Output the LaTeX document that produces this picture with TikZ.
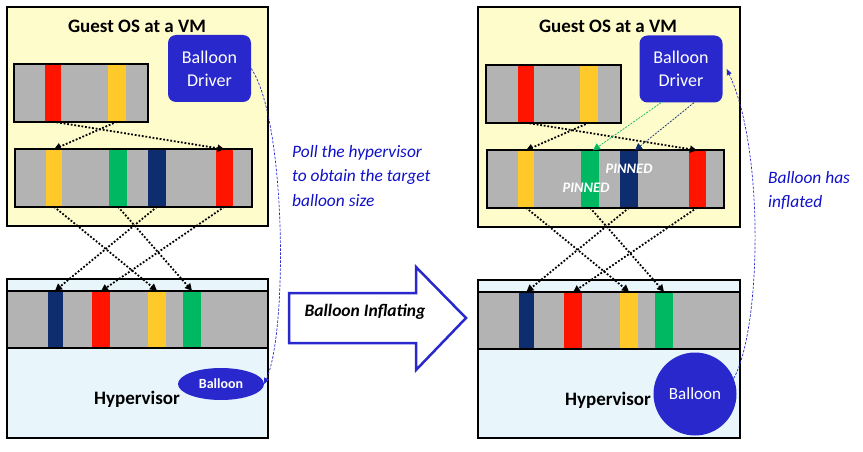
\documentclass[tikz,border=0pt]{standalone}
\usepackage{fontspec}
\setmainfont{Carlito}
\usetikzlibrary{arrows.meta,shapes.geometric}
\definecolor{gyellow}{HTML}{FFFCCB}
\definecolor{hblue}{HTML}{E8F6FC}
\definecolor{gbar}{HTML}{B3B3B3}
\definecolor{bred}{HTML}{FF1400}
\definecolor{byel}{HTML}{FFC929}
\definecolor{bgrn}{HTML}{00B862}
\definecolor{bnavy}{HTML}{0D2D6E}
\definecolor{dblue}{HTML}{2828CC}
\definecolor{tblue}{HTML}{1010C8}
\begin{document}
\begin{tikzpicture}[x=1pt,y=-1pt,
  guestbox/.style={draw=black,line width=2pt,fill=gyellow},
  hypbox/.style={draw=black,line width=2pt,fill=hblue},
  band/.style={minimum width=#1,minimum height=57pt,inner sep=0pt,draw=none,rectangle},
  band/.default=17pt,
  memarrow/.style={line width=1.8pt,dash pattern=on 1.8pt off 1.8pt,-{Triangle[length=7pt,width=7pt]}},
  pollarrow/.style={draw=dblue,line width=0.7pt,dash pattern=on 2.5pt off 1.5pt,-{Triangle[length=6pt,width=5pt]}},
  drvarrow/.style={line width=0.7pt,dash pattern=on 2pt off 1.2pt},
  driver/.style={rounded corners=8pt,fill=dblue,draw=none,minimum width=83pt,minimum height=67pt,
     text=white,font=\fontsize{18}{23}\selectfont,align=center},
  title/.style={font=\bfseries\fontsize{19}{22}\selectfont},
  note/.style={text=tblue,font=\itshape\fontsize{17.4}{24.5}\selectfont,align=left,anchor=north west,inner sep=0pt},
  pinned/.style={text=white,font=\bfseries\itshape\fontsize{14.5}{16}\selectfont,inner sep=0pt}
]
\useasboundingbox (0,0) rectangle (863,452);

% ================= LEFT PANEL =================
\draw[guestbox] (7,7) rectangle (268,226);
\node[title] (Ltitle) at (137,26) {Guest OS at a VM};
\node[driver] (Ldrv) at (209.5,68.5) {Balloon\\Driver};
% small bar
\fill[gbar] (14,64) rectangle (148,122);
\node[band=16pt,fill=bred] (Ls_r) at (53,93) {};
\node[band=18pt,fill=byel] (Ls_y) at (117,93) {};
\draw[line width=2pt] (14,64) rectangle (148,122);
% large bar
\fill[gbar] (15,149) rectangle (252,207);
\node[band=16pt,fill=byel] (Ll_y) at (54,178) {};
\node[band=18pt,fill=bgrn] (Ll_g) at (118,178) {};
\node[band=18pt,fill=bnavy] (Ll_n) at (157,178) {};
\node[band=17pt,fill=bred] (Ll_r) at (224.5,178) {};
\draw[line width=2pt] (15,149) rectangle (252,207);
% hypervisor
\draw[hypbox] (7,279) rectangle (268,438);
\fill[gbar] (7,291) rectangle (268,348);
\node[band=15pt,fill=bnavy] (Lh_n) at (55,319.5) {};
\node[band=18pt,fill=bred] (Lh_r) at (101,320) {};
\node[band=18pt,fill=byel] (Lh_y) at (157,319.5) {};
\node[band=18pt,fill=bgrn] (Lh_g) at (192,319.5) {};
\draw[line width=2pt] (7,291) -- (268,291) (7,348) -- (268,348);
\draw[line width=2pt] (7,279) rectangle (268,438);
\node[title] (Lhyp) at (137,399) {Hypervisor};
\node[ellipse,fill=dblue,minimum width=86pt,minimum height=32pt,inner sep=0pt,
      text=white,font=\bfseries\fontsize{14}{16}\selectfont] (Lball) at (221,384) {Balloon};
% memory arrows
\draw[memarrow] (Ls_r.south) -- (Ll_r.north);
\draw[memarrow] (Ls_y.south) -- (Ll_y.north);
\draw[memarrow] (Ll_y.south) -- (Lh_y.north);
\draw[memarrow] (Ll_g.south) -- (Lh_g.north);
\draw[memarrow] (Ll_n.south) -- (Lh_n.north);
\draw[memarrow] (Ll_r.south) -- (Lh_r.north);
% poll curve
\draw[pollarrow] (Ldrv.east) .. controls (286,120) and (288,330) .. (Lball.east);
\node[note] (Lnote) at (292,145) {Poll the hypervisor\\to obtain the target\\balloon size};

% ================= CENTER ARROW =================
\draw[draw=dblue,line width=2.5pt,fill=white,line join=miter]
  (289,293) -- (416,293) -- (416,267) -- (466,318) -- (416,370) -- (416,343) -- (289,343) -- cycle;
\node[font=\bfseries\itshape\fontsize{17.5}{20}\selectfont] (inflate) at (365,312) {Balloon Inflating};

% ================= RIGHT PANEL =================
\begin{scope}[xshift=471pt]
\draw[guestbox] (7,7) rectangle (269,227);
\node[title] (Rtitle) at (137,26) {Guest OS at a VM};
\node[driver] (Rdrv) at (210,69) {Balloon\\Driver};
% small bar
\fill[gbar] (15,65) rectangle (150,123);
\node[band=16pt,fill=bred] (Rs_r) at (55,94) {};
\node[band=18pt,fill=byel] (Rs_y) at (118,94) {};
\draw[line width=2pt] (15,65) rectangle (150,123);
% large bar
\fill[gbar] (16,150) rectangle (253,208);
\node[band=16pt,fill=byel] (Rl_y) at (55,179) {};
\node[band=18pt,fill=bgrn] (Rl_g) at (119,179) {};
\node[band=18pt,fill=bnavy] (Rl_n) at (158,179) {};
\node[band=17pt,fill=bred] (Rl_r) at (226,179) {};
\draw[line width=2pt] (16,150) rectangle (253,208);
\node[pinned] (Rpin1) at (158,169) {PINNED};
\node[pinned] (Rpin2) at (115,188) {PINNED};
% hypervisor
\draw[hypbox] (7,280) rectangle (269,438);
\fill[gbar] (7,292) rectangle (269,349);
\node[band=15pt,fill=bnavy] (Rh_n) at (55.5,320.5) {};
\node[band=18pt,fill=bred] (Rh_r) at (102,321) {};
\node[band=18pt,fill=byel] (Rh_y) at (158,320.5) {};
\node[band=18pt,fill=bgrn] (Rh_g) at (193,320.5) {};
\draw[line width=2pt] (7,292) -- (269,292) (7,349) -- (269,349);
\draw[line width=2pt] (7,280) rectangle (269,438);
\node[title] (Rhyp) at (137,400) {Hypervisor};
\node[circle,fill=dblue,minimum size=83pt,inner sep=0pt,
      text=white,font=\fontsize{17}{19}\selectfont] (Rball) at (224,394) {Balloon};
% memory arrows
\draw[memarrow] (Rs_r.south) -- (Rl_r.north);
\draw[memarrow] (Rs_y.south) -- (Rl_y.north);
\draw[memarrow] (Rl_y.south) -- (Rh_y.north);
\draw[memarrow] (Rl_g.south) -- (Rh_g.north);
\draw[memarrow] (Rl_n.south) -- (Rh_n.north);
\draw[memarrow] (Rl_r.south) -- (Rh_r.north);
% driver arrows
\draw[drvarrow,draw=bgrn,-{Triangle[length=7pt,width=7pt,fill=bgrn]}] ([xshift=-20pt]Rdrv.south) -- ([xshift=3pt]Rl_g.north);
\draw[drvarrow,draw=bnavy,-{Triangle[length=7pt,width=7pt,fill=bnavy]}] ([xshift=13pt]Rdrv.south) -- ([xshift=6pt]Rl_n.north);
% inflated curve
\draw[pollarrow] (Rball.22) .. controls (290,330) and (294,150) .. ([xshift=4pt]Rdrv.east);
\node[note] (Rnote) at (297,171) {Balloon has\\inflated};
\end{scope}
\end{tikzpicture}
\end{document}
